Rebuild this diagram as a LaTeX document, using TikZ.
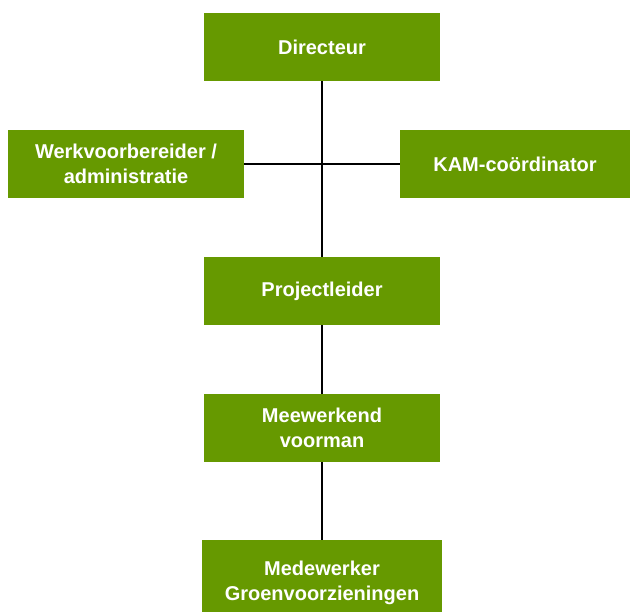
\documentclass[tikz,border=0pt]{standalone}
\usepackage{fontspec}
\setmainfont{Liberation Sans}
\usepackage{xcolor}
\definecolor{groen}{HTML}{669900}
\usetikzlibrary{positioning}

\begin{document}
\begin{tikzpicture}[x=1pt, y=1pt,
                    every node/.style={font=\bfseries\fontsize{20}{25}\selectfont, text=white},
                    box/.style={fill=groen, minimum width=236pt, minimum height=68pt, inner sep=0pt, align=center}]
                                \useasboundingbox (0,0) rectangle (630,-612);
                                \node[box] (dir) at (322,-47) {Directeur};
                                \node[box] (wvb) at (126,-164) {Werkvoorbereider /\\administratie};
                                \node[box, minimum width=230pt] (kam) at (515,-164) {KAM-co\"ordinator};
                                \node[box] (pl) at (322,-291) {Projectleider};
                                \node[box] (mv) at (322,-428) {Meewerkend\\voorman};
                                \node[box, minimum width=240pt, minimum height=86pt] (mw) at (322,-583) {Medewerker\\Groenvoorzieningen};

                                \draw[line width=2pt] (dir) -- (pl);
                                \draw[line width=2pt] (wvb) -- (kam);
                                \draw[line width=2pt] (pl) -- (mv);
                                \draw[line width=2pt] (mv) -- (mw);
                            \end{tikzpicture}
\end{document}
